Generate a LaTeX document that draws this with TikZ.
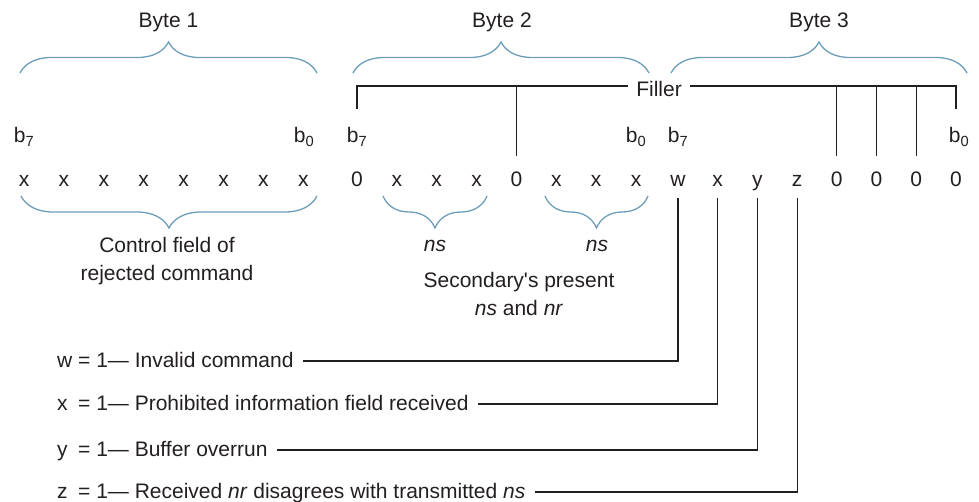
\documentclass[tikz,border=0pt]{standalone}
\usepackage{fontspec}
\setmainfont{Liberation Sans}
\usetikzlibrary{decorations.pathreplacing}
\definecolor{txtcol}{RGB}{35,31,32}
\definecolor{brcol}{RGB}{108,158,186}
\begin{document}
\begin{tikzpicture}[x=1pt,y=-1pt,
  every node/.style={text=txtcol, font=\fontsize{21}{28.5}\selectfont, inner sep=0pt},
  bit/.style={anchor=base, text height=20pt, text depth=0pt, inner ysep=11pt},
  blab/.style={anchor=base},
  ln/.style={draw=txtcol, line width=1.2pt},
  brace/.style={draw=brcol, line width=1.3pt, decorate, decoration={brace, amplitude=#1}},
  brace/.default=31,
  note/.style={anchor=west, text height=13.2pt, text depth=0pt},
]
\useasboundingbox (0,0) rectangle (979,502);

% bit rows
\foreach \t [count=\i from 0] in {x,x,x,x,x,x,x,x}
  \node[bit] (p\i) at ({24+39.9*\i},187) {\t};
\foreach \t [count=\i from 0] in {0,x,x,x,0,x,x,x}
  \node[bit] (q\i) at ({357+39.86*\i},187) {\t};
\foreach \t [count=\i from 0] in {w,x,y,z,0,0,0,0}
  \node[bit] (r\i) at ({678+39.7*\i},187) {\t};

% b7 / b0 labels
\node[blab] (p7l) at (24,143) {b\textsubscript{7}};
\node[blab] (p0l) at (304,143) {b\textsubscript{0}};
\node[blab] (q7l) at (357,143) {b\textsubscript{7}};
\node[blab] (q0l) at (636,143) {b\textsubscript{0}};
\node[blab] (r7l) at (678,143) {b\textsubscript{7}};
\node[blab] (r0l) at (959,143) {b\textsubscript{0}};

% byte labels and braces
\node[blab] (by1) at (168.5,28) {Byte 1};
\node[blab] (by2) at (502,28) {Byte 2};
\node[blab] (by3) at (819,28) {Byte 3};
\draw[brace] (20,73) -- (317,73);
\draw[brace] (353,73) -- (649,73);
\draw[brace] (671,73) -- (967,73);

% filler
\node[blab, inner xsep=8pt] (fil) at (659,97) {Filler};
\coordinate (fy) at (0,86);
\coordinate (fL) at (357,109);
\coordinate (fR) at (956,109);
\draw[ln] (fL) |- (fil.west |- fy);
\draw[ln] (fR) |- (fil.east |- fy);
\foreach \n in {q4,r4,r5,r6}
  \draw[ln] (\n.north) -- (\n.north |- fy);

% lower braces and labels
\draw[brace=32] (317,196) -- (21,196);
\draw[brace=32] (487,196) -- (383,196);
\draw[brace=32] (648,196) -- (545,196);
\node[anchor=north, align=center] (cf) at (167,237) {Control field of\\rejected command};
\node[blab] (ns1) at (435,252) {\textit{ns}};
\node[blab] (ns2) at (597,252) {\textit{ns}};
\node[anchor=north, align=center] (sp) at (519,272) {Secondary\textquotesingle s present\\\textit{ns} and \textit{nr}};

% status bit notes
\node[note] (nw) at (57,361) {w = 1— Invalid command};
\node[note] (nx) at (57,404) {\makebox[0.722em][l]{x} = 1— Prohibited information field received};
\node[note] (ny) at (57,450) {\makebox[0.722em][l]{y} = 1— Buffer overrun};
\node[note] (nz) at (57,492) {\makebox[0.722em][l]{z} = 1— Received \textit{nr} disagrees with transmitted \textit{ns}};
\draw[ln, shorten >=9pt] (r0.south) |- (nw.east);
\draw[ln, shorten >=9pt] (r1.south) |- (nx.east);
\draw[ln, shorten >=9pt] (r2.south) |- (ny.east);
\draw[ln, shorten >=9pt] (r3.south) |- (nz.east);
\end{tikzpicture}
\end{document}
